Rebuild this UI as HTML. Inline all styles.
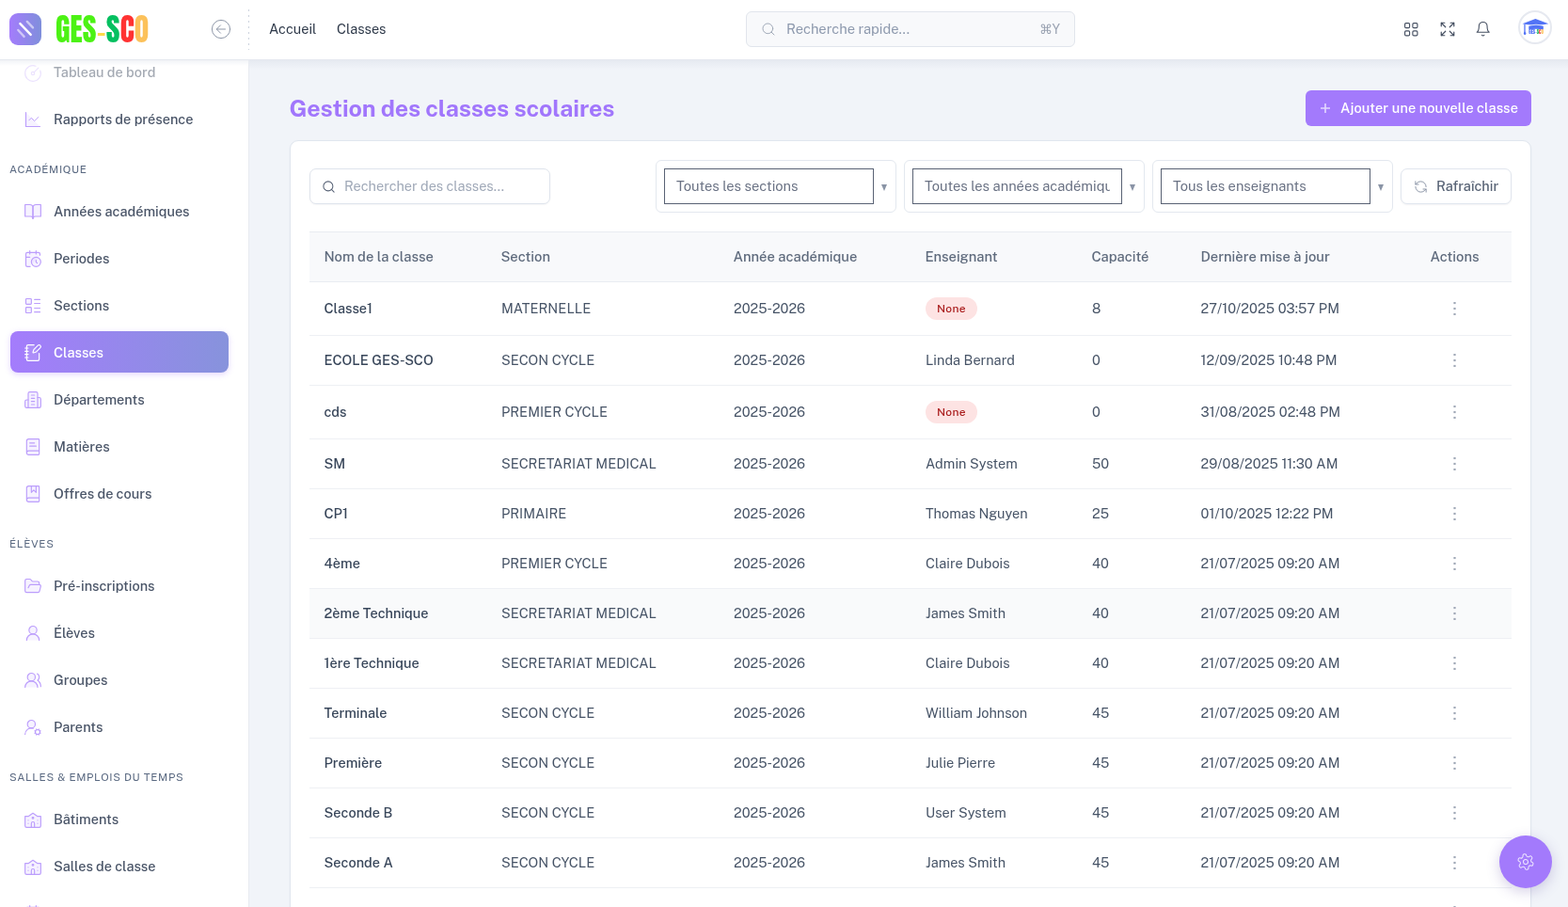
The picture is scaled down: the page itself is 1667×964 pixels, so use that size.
<!DOCTYPE html>
<html lang="fr">
<head>
<meta charset="utf-8">
<title>Gestion des classes scolaires</title>
<style>
*{box-sizing:border-box;margin:0;padding:0}
html,body{width:1667px;height:964px;overflow:hidden}
body{font-family:"Public Sans","Liberation Sans",sans-serif;background:#f1f4f9;color:#4a5568;position:relative;font-size:14.5px}
svg{display:block}
/* header */
#hdr{position:absolute;left:0;top:0;width:1667px;height:64px;background:#fff;border-bottom:1px solid #e5e8ef;z-index:5}
.logo-ic{position:absolute;left:10px;top:14px;width:34px;height:34px;border-radius:9px;background:linear-gradient(90deg,#a47cfc,#7f8fdb)}
.logo-ic svg{position:absolute;left:0;top:0}
.logo-tx{position:absolute;left:59px;top:8.6px;font-family:"Anton","Liberation Sans",sans-serif;font-size:33.3px;line-height:44px;letter-spacing:0.15px;transform:scaleX(.955);transform-origin:0 0;white-space:nowrap}
.logo-tx i{display:inline-block;width:8.4px;height:3px;background:#fcd94a;vertical-align:middle;margin:0 1.2px 0 1.1px;position:relative;top:4px}
.back{position:absolute;left:224px;top:20px}
.sep{position:absolute;left:264px;top:9.5px;height:43px;width:1px;background:repeating-linear-gradient(180deg,#cdd4df 0,#cdd4df 2px,transparent 2px,transparent 6px)}
.crumb{position:absolute;top:21px;font-size:14.5px;color:#2f3a4a;font-weight:400;line-height:20px}
.qs{position:absolute;left:793px;top:12px;width:350px;height:38px;border:1px solid #e1e5ec;border-radius:6px;background:#f8f9fb}
.qs svg{position:absolute;left:15px;top:10px}
.qs span{position:absolute;left:42px;top:8px;color:#8e9aae;font-size:14.7px;line-height:20px}
.qs b{position:absolute;right:15px;top:8px;color:#9aa3b2;font-weight:400;font-size:14px;line-height:20px}
.hic{position:absolute;top:22px}
.avatar{position:absolute;left:1614px;top:11px;width:36px;height:36px;border-radius:50%;border:2px solid #e6e9f0;background:#fff;overflow:hidden}
/* sidebar */
#sb{position:absolute;left:0;top:64px;width:265px;height:900px;background:#fff;border-right:1px solid #e8ebf1;overflow:hidden}
.it{position:absolute;left:0;width:264px;height:44px;font-size:14.5px;font-weight:500;color:#4a5568;line-height:20px}
.it span{position:absolute;left:57px;top:13px}
.it svg{position:absolute;left:25px;top:13px}
.it.on{left:11px;width:232px;border-radius:8px;background:linear-gradient(90deg,#a47cfc,#8793dc);box-shadow:0 2px 6px rgba(164,124,252,.3);color:#fff}
.it.on span{left:46px}.it.on svg{left:14px}
.it.fade{opacity:.5}.it.fade span{top:12px}.it.fade svg{opacity:.6}
.sbfade{position:absolute;left:0;top:0;width:264px;height:6px;background:linear-gradient(#f1f3f7,rgba(255,255,255,0))}
.sh{position:absolute;left:10px;font-size:11.5px;letter-spacing:.65px;color:#5b6a82;font-weight:400;text-transform:uppercase;line-height:20px}
/* main */
.mfade{position:absolute;left:265px;top:64px;width:1403px;height:10px;background:linear-gradient(#e6eaf1,rgba(241,244,249,0))}
h1{position:absolute;left:307.5px;top:99px;font-size:25px;font-weight:700;color:#a176fc;line-height:32px;letter-spacing:-0.12px}
.addbtn{position:absolute;left:1388px;top:96px;width:240px;height:38px;border-radius:6px;background:#a37afc;color:#fff;font-size:14.5px;line-height:38px;font-weight:500}
.addbtn svg{position:absolute;left:16px;top:14px}
.addbtn span{position:absolute;left:37px;top:0;letter-spacing:.1px}
.card{position:absolute;left:308px;top:149px;width:1320px;height:900px;background:#fff;border:1px solid #e0e6ee;border-radius:9px;box-shadow:0 1px 3px rgba(30,50,90,.04)}
.srch{position:absolute;left:329px;top:179px;width:256px;height:38px;border:1px solid #dfe4ec;border-radius:7px;background:#fff;box-shadow:0 1px 2px rgba(16,24,40,.04)}
.srch svg{position:absolute;left:12px;top:10.5px}
.srch span{position:absolute;left:36px;top:8px;color:#a0a9b8;line-height:20px}
.selw{position:absolute;top:170px;width:256px;height:56px;border:1px solid #e3e8ef;border-radius:6px;background:#fff}
.sel{position:absolute;left:8px;top:8px;width:223px;height:38px;border:1px solid #596274;background:#fff;overflow:hidden;white-space:nowrap}
.sel span{position:absolute;left:12px;right:12px;overflow:hidden;top:8px;line-height:20px;color:#6b7385;font-size:14.7px}
.arr{position:absolute;left:239px;top:24.5px;width:0;height:0;border-left:3.9px solid transparent;border-right:3.9px solid transparent;border-top:7px solid #8a94a6}
.refresh{position:absolute;left:1489px;top:179px;width:118px;height:38px;border:1px solid #e1e6ee;border-radius:7px;background:#fff;box-shadow:0 1px 2px rgba(16,24,40,.05)}
.refresh svg{position:absolute;left:13px;top:11px}
.refresh span{position:absolute;left:37px;top:8px;line-height:20px;color:#5a6577;font-weight:500}
/* table */
.tbl{position:absolute;left:329px;top:246px;width:1278px;height:720px}
.th{position:absolute;left:0;top:0;width:1278px;height:54px;background:#f8f9fb;border-top:1px solid #e9ecf1;border-bottom:1px solid #e9ecf1}
.th span{position:absolute;top:16px;line-height:20px;color:#5f6b7d;font-weight:500;font-size:14.75px;margin-left:-0.6px}
.tr{position:absolute;left:0;width:1278px;border-bottom:1px solid #eef0f4}
.tr.hov{background:#f9fafb}
.tr span{position:absolute;top:50%;margin-top:-10px;line-height:20px;color:#475467;font-weight:400}
.tr .c0{font-weight:500;color:#38465a;margin-left:-.5px}
.tr .c5{font-weight:400;letter-spacing:.08px;margin-left:-.5px}
.badge{position:absolute;top:50%;margin-top:-12px;height:24px;width:55px;border-radius:12px;background:#fde3e3;color:#ab1f1f;font-style:normal;font-weight:550;font-size:12px;letter-spacing:.35px;line-height:24px;text-align:center}
.dots{position:absolute;left:1216px;top:50%;margin-top:-7px}
.fab{position:absolute;left:1594px;top:888px;width:56px;height:56px;border-radius:50%;background:#a37afc;box-shadow:0 4px 14px rgba(90,70,160,.25)}
.fab svg{position:absolute;left:18px;top:18px;transform:rotate(-10deg)}
</style>
</head>
<body>
<div id="hdr">
  <div class="logo-ic"><svg width="34" height="34" viewBox="0 0 34 34" stroke-linecap="round"><path d="M18.8 8.9 25 15.4" stroke="#fff" stroke-opacity=".55" stroke-width="2.4"/><path d="M11.4 11.1 22.7 22.9" stroke="#fff" stroke-width="2.4"/><path d="M9.3 18 15.6 24.9" stroke="#fff" stroke-opacity=".55" stroke-width="2.4"/></svg></div>
  <div class="logo-tx"><span style="color:#4cf214">GES</span><i></i><span style="color:#05c060">S</span><span style="color:#ff3232">C</span><span style="color:#fcc15a">O</span></div>
  <svg class="back" width="22" height="22" viewBox="0 0 22 22" fill="none" stroke="#8f98a9" stroke-width="1" stroke-linecap="round" stroke-linejoin="round"><circle cx="11" cy="11" r="9.6"/><path d="M10.5 6.8 6.3 11l4.2 4.2M6.3 11h9.2"/></svg>
  <div class="sep"></div>
  <div class="crumb" style="left:286px">Accueil</div>
  <div class="crumb" style="left:358px">Classes</div>
  <div class="qs"><svg width="16" height="16" viewBox="0 0 24 24" fill="none" stroke="#a0a9b8" stroke-width="1.5" stroke-linecap="round"><circle cx="11" cy="11" r="8"/><path d="m21 21-4.3-4.3"/></svg><span>Recherche rapide...</span><b>⌘Y</b></div>
  <svg class="hic" style="left:1493.4px;top:23.9px" width="15" height="15" viewBox="0 0 15 15" fill="none" stroke="#465062" stroke-width="1.15"><rect x="0.6" y="0.6" width="5" height="5" rx="1.2"/><rect x="8.9" y="0.6" width="5" height="5" rx="1.2"/><rect x="0.6" y="8.9" width="5" height="5" rx="1.2"/><rect x="8.9" y="8.9" width="5" height="5" rx="1.2"/></svg>
  <svg class="hic" style="left:1530px;top:21.9px" width="18" height="18" viewBox="0 0 24 24" fill="none" stroke="#465062" stroke-width="1.6" stroke-linecap="round" stroke-linejoin="round"><path d="m21 21-6-6m6 6v-4.8m0 4.8h-4.8"/><path d="M3 16.2V21m0 0h4.8M3 21l6-6"/><path d="M21 7.8V3m0 0h-4.8M21 3l-6 6"/><path d="M3 7.8V3m0 0h4.8M3 3l6 6"/></svg>
  <svg class="hic" style="left:1568.4px;top:22px" width="17.4" height="17.4" viewBox="0 0 24 24" fill="none" stroke="#465062" stroke-width="1.5" stroke-linecap="round" stroke-linejoin="round"><path d="M6 8a6 6 0 0 1 12 0c0 7 3 9 3 9H3s3-2 3-9"/><path d="M10.3 21a1.94 1.94 0 0 0 3.4 0"/></svg>
  <div class="avatar"><svg width="32" height="32" viewBox="0 0 32 32"><path d="M16.4 7 30.4 12.3 16.4 14.6 2.5 12.3z" fill="#5273f6"/><path d="M9.3 14.6Q17 12.4 24.8 14.6V18.6Q17 17 9.3 18.6z" fill="#5273f6"/><path d="M8.8 14.2Q17 12.2 25.3 14.2" stroke="#fff" stroke-width=".8" fill="none"/><path d="M5 12.6v9" stroke="#5273f6" stroke-width="1.3"/><path d="M5 20.5c-1.2.8-1.6 2.3-.6 3.2.8.6 1.8.3 2-.7.2-1-.3-1.8-1.4-2.5z" fill="#5273f6"/><text x="9.3" y="23.1" font-family="Anton" font-size="5.2" textLength="15.6" lengthAdjust="spacingAndGlyphs"><tspan fill="#5273f6">GES-</tspan><tspan fill="#18b45a">S</tspan><tspan fill="#f23c3c">C</tspan><tspan fill="#fcc45c">O</tspan></text></svg></div>
</div>
<div id="sb">
<div class="it fade" style="top:-9px"><svg width="20" height="20" viewBox="0 0 24 24" stroke="#bc9efc" fill="none" stroke-width="1.4" stroke-linecap="round" stroke-linejoin="round"><path d="M15.6 2.7a10 10 0 1 0 5.7 5.7"/><circle cx="12" cy="12" r="2"/><path d="M13.4 10.6 19 5"/></svg><span>Tableau de bord</span></div>
<div class="it" style="top:40px"><svg width="20" height="20" viewBox="0 0 24 24" stroke="#bc9efc" fill="none" stroke-width="1.4" stroke-linecap="round" stroke-linejoin="round"><path d="M3 3 21 21H3z" fill="#a47cfc" fill-opacity=".1" stroke="none"/><path d="M3 3v18h18"/><path d="m19 9-5 5-4-4-3 3" stroke-width="1.2"/></svg><span>Rapports de présence</span></div>
<div class="it" style="top:138px"><svg width="20" height="20" viewBox="0 0 24 24" stroke="#bc9efc" fill="none" stroke-width="1.4" stroke-linecap="round" stroke-linejoin="round"><path d="M2 3h6a4 4 0 0 1 4 4v14a3 3 0 0 0-3-3H2z" fill="#a47cfc" fill-opacity=".1"/><path d="M22 3h-6a4 4 0 0 0-4 4v14a3 3 0 0 1 3-3h7z" fill="#a47cfc" fill-opacity=".1"/></svg><span>Années académiques</span></div>
<div class="it" style="top:188px"><svg width="20" height="20" viewBox="0 0 24 24" stroke="#bc9efc" fill="none" stroke-width="1.4" stroke-linecap="round" stroke-linejoin="round"><path d="M21 7.5V6a2 2 0 0 0-2-2H5a2 2 0 0 0-2 2v14a2 2 0 0 0 2 2h3.5" fill="#a47cfc" fill-opacity=".1"/><path d="M16 2v4"/><path d="M8 2v4"/><path d="M3 10h5"/><path d="M17.5 17.5 16 16.3V14"/><circle cx="16" cy="16" r="6" fill="#a47cfc" fill-opacity=".1"/></svg><span>Periodes</span></div>
<div class="it" style="top:238px"><svg width="20" height="20" viewBox="0 0 24 24" stroke="#bc9efc" fill="none" stroke-width="1.4" stroke-linecap="round" stroke-linejoin="round"><rect width="7" height="7" x="3" y="3" rx="1" fill="#a47cfc" fill-opacity=".1"/><rect width="7" height="7" x="3" y="14" rx="1" fill="#a47cfc" fill-opacity=".1"/><path d="M14 4h7"/><path d="M14 9h7"/><path d="M14 15h7"/><path d="M14 20h7"/></svg><span>Sections</span></div>
<div class="it on" style="top:288px"><svg width="20" height="20" viewBox="0 0 24 24" stroke="#ffffff" fill="none" stroke-width="1.4" stroke-linecap="round" stroke-linejoin="round"><path d="M13.4 2H6a2 2 0 0 0-2 2v16a2 2 0 0 0 2 2h12a2 2 0 0 0 2-2v-7.4" fill="#fff" fill-opacity=".12"/><path d="M2 6h4"/><path d="M2 10h4"/><path d="M2 14h4"/><path d="M2 18h4"/><path d="M21.378 5.626a1 1 0 1 0-3.004-3.004l-5.01 5.012a2 2 0 0 0-.506.854l-.837 2.87a.5.5 0 0 0 .62.62l2.87-.837a2 2 0 0 0 .854-.506z"/></svg><span>Classes</span></div>
<div class="it" style="top:338px"><svg width="20" height="20" viewBox="0 0 24 24" stroke="#bc9efc" fill="none" stroke-width="1.4" stroke-linecap="round" stroke-linejoin="round"><path d="M6 22V4a2 2 0 0 1 2-2h8a2 2 0 0 1 2 2v18Z" fill="#a47cfc" fill-opacity=".1"/><path d="M6 12H4a2 2 0 0 0-2 2v6a2 2 0 0 0 2 2h2" fill="#a47cfc" fill-opacity=".1"/><path d="M18 9h2a2 2 0 0 1 2 2v9a2 2 0 0 1-2 2h-2" fill="#a47cfc" fill-opacity=".1"/><path d="M10 6h4"/><path d="M10 10h4"/><path d="M10 14h4"/><path d="M10 18h4"/></svg><span>Départements</span></div>
<div class="it" style="top:388px"><svg width="20" height="20" viewBox="0 0 24 24" stroke="#bc9efc" fill="none" stroke-width="1.4" stroke-linecap="round" stroke-linejoin="round"><path d="M4 19.5v-15A2.5 2.5 0 0 1 6.5 2H19a1 1 0 0 1 1 1v18a1 1 0 0 1-1 1H6.5a1 1 0 0 1 0-5H20" fill="#a47cfc" fill-opacity=".1"/><path d="M8 11h8"/><path d="M8 7h6"/></svg><span>Matières</span></div>
<div class="it" style="top:438px"><svg width="20" height="20" viewBox="0 0 24 24" stroke="#bc9efc" fill="none" stroke-width="1.4" stroke-linecap="round" stroke-linejoin="round"><path d="M4 19.5v-15A2.5 2.5 0 0 1 6.5 2H19a1 1 0 0 1 1 1v18a1 1 0 0 1-1 1H6.5a1 1 0 0 1 0-5H20" fill="#a47cfc" fill-opacity=".1"/><path d="M10 2v8l3-3 3 3V2"/></svg><span>Offres de cours</span></div>
<div class="it" style="top:536px"><svg width="20" height="20" viewBox="0 0 24 24" stroke="#bc9efc" fill="none" stroke-width="1.4" stroke-linecap="round" stroke-linejoin="round"><path d="m6 14 1.5-2.9A2 2 0 0 1 9.24 10H20a2 2 0 0 1 1.94 2.5l-1.54 6a2 2 0 0 1-1.95 1.5H4a2 2 0 0 1-2-2V5a2 2 0 0 1 2-2h3.9a2 2 0 0 1 1.69.9l.81 1.2a2 2 0 0 0 1.67.9H18a2 2 0 0 1 2 2v2" fill="#a47cfc" fill-opacity=".1"/></svg><span>Pré-inscriptions</span></div>
<div class="it" style="top:586px"><svg width="20" height="20" viewBox="0 0 24 24" stroke="#bc9efc" fill="none" stroke-width="1.4" stroke-linecap="round" stroke-linejoin="round"><circle cx="12" cy="8" r="5" fill="#a47cfc" fill-opacity=".1"/><path d="M20 21a8 8 0 0 0-16 0" fill="#a47cfc" fill-opacity=".1"/></svg><span>Élèves</span></div>
<div class="it" style="top:636px"><svg width="20" height="20" viewBox="0 0 24 24" stroke="#bc9efc" fill="none" stroke-width="1.4" stroke-linecap="round" stroke-linejoin="round"><path d="M18 21a8 8 0 0 0-16 0" fill="#a47cfc" fill-opacity=".1"/><circle cx="10" cy="8" r="5" fill="#a47cfc" fill-opacity=".1"/><path d="M22 20c0-3.37-2-6.5-4-8a5 5 0 0 0-.45-8.3"/></svg><span>Groupes</span></div>
<div class="it" style="top:686px"><svg width="20" height="20" viewBox="0 0 24 24" stroke="#bc9efc" fill="none" stroke-width="1.4" stroke-linecap="round" stroke-linejoin="round"><path d="M2 21a8 8 0 0 1 10.434-7.62"/><circle cx="10" cy="8" r="5" fill="#a47cfc" fill-opacity=".1"/><circle cx="18" cy="18" r="3"/><path d="m19.5 14.3-.4.9"/><path d="m16.9 20.8-.4.9"/><path d="m21.7 19.5-.9-.4"/><path d="m15.2 16.9-.9-.4"/><path d="m21.7 16.5-.9.4"/><path d="m15.2 19.1-.9.4"/><path d="m19.5 21.7-.4-.9"/><path d="m16.9 15.2-.4-.9"/></svg><span>Parents</span></div>
<div class="it" style="top:784px"><svg width="20" height="20" viewBox="0 0 24 24" stroke="#bc9efc" fill="none" stroke-width="1.4" stroke-linecap="round" stroke-linejoin="round"><circle cx="12" cy="10" r="1"/><path d="M22 20V8h-4l-6-4-6 4H2v12a2 2 0 0 0 2 2h16a2 2 0 0 0 2-2" fill="#a47cfc" fill-opacity=".1"/><path d="M6 17v.01"/><path d="M6 13v.01"/><path d="M18 17v.01"/><path d="M18 13v.01"/><path d="M14 22v-5a2 2 0 0 0-2-2a2 2 0 0 0-2 2v5"/></svg><span>Bâtiments</span></div>
<div class="it" style="top:834px"><svg width="20" height="20" viewBox="0 0 24 24" stroke="#bc9efc" fill="none" stroke-width="1.4" stroke-linecap="round" stroke-linejoin="round"><circle cx="12" cy="10" r="1"/><path d="M22 20V8h-4l-6-4-6 4H2v12a2 2 0 0 0 2 2h16a2 2 0 0 0 2-2" fill="#a47cfc" fill-opacity=".1"/><path d="M6 17v.01"/><path d="M6 13v.01"/><path d="M18 17v.01"/><path d="M18 13v.01"/><path d="M14 22v-5a2 2 0 0 0-2-2a2 2 0 0 0-2 2v5"/></svg><span>Salles de classe</span></div>
<div class="it" style="top:884px"><svg width="20" height="20" viewBox="0 0 24 24" stroke="#bc9efc" fill="none" stroke-width="1.4" stroke-linecap="round" stroke-linejoin="round"><path d="M8 2v4"/><path d="M16 2v4"/><rect width="18" height="18" x="3" y="4" rx="2" fill="#a47cfc" fill-opacity=".1"/><path d="M3 10h18"/></svg><span>Emplois du temps</span></div>
<div class="sh" style="top:106px">Académique</div>
<div class="sh" style="top:504px">Élèves</div>
<div class="sh" style="top:752px">Salles &amp; emplois du temps</div>
<div class="sbfade"></div>
</div>
<div class="mfade"></div>
<h1>Gestion des classes scolaires</h1>
<div class="addbtn"><svg width="10" height="10" viewBox="0 0 10 10" stroke="#fff" stroke-opacity=".7" stroke-width="1.6" stroke-linecap="butt"><path d="M5 0v10M0 5h10"/></svg><span>Ajouter une nouvelle classe</span></div>
<div class="card"></div>
<div class="srch"><svg width="15" height="15" viewBox="0 0 24 24" fill="none" stroke="#556074" stroke-width="1.65" stroke-linecap="round"><circle cx="11" cy="11" r="8"/><path d="m21 21-4.3-4.3"/></svg><span>Rechercher des classes...</span></div>
<div class="selw" style="left:697px"><div class="sel"><span>Toutes les sections</span></div><div class="arr"></div></div>
<div class="selw" style="left:961px"><div class="sel"><span>Toutes les années académiques</span></div><div class="arr"></div></div>
<div class="selw" style="left:1225px"><div class="sel"><span>Tous les enseignants</span></div><div class="arr"></div></div>
<div class="refresh"><svg width="15" height="15" viewBox="0 0 24 24" fill="none" stroke="#8b95a7" stroke-width="1.6" stroke-linecap="round" stroke-linejoin="round"><path d="M21 12a9 9 0 0 0-9-9 9.75 9.75 0 0 0-6.74 2.74L3 8"/><path d="M3 3v5h5"/><path d="M3 12a9 9 0 0 0 9 9 9.75 9.75 0 0 0 6.74-2.74L21 16"/><path d="M16 16h5v5"/></svg><span>Rafraîchir</span></div>
<div class="tbl">
<div class="th"><span style="left:16px">Nom de la classe</span><span style="left:204px">Section</span><span style="left:451px">Année académique</span><span style="left:655px">Enseignant</span><span style="left:832px">Capacité</span><span style="left:948px">Dernière mise à jour</span><span style="left:1192px">Actions</span></div>
<div class="tr" style="top:54px;height:57px"><span class="c0" style="left:16px">Classe1</span><span class="c1" style="left:204px">MATERNELLE</span><span class="c2" style="left:451px">2025-2026</span><i class="badge" style="left:655px">None</i><span class="c4" style="left:832px">8</span><span class="c5" style="left:948px">27/10/2025 03:57 PM</span><svg class="dots" width="4" height="14" viewBox="0 0 4 14" fill="#a0a8b7"><rect x="0.4" y="-0.1" width="2.2" height="2.2"/><rect x="0.4" y="5.9" width="2.2" height="2.2"/><rect x="0.4" y="11.9" width="2.2" height="2.2"/></svg></div>
<div class="tr" style="top:111px;height:53px"><span class="c0" style="left:16px">ECOLE GES-SCO</span><span class="c1" style="left:204px">SECON CYCLE</span><span class="c2" style="left:451px">2025-2026</span><span class="c3" style="left:655px">Linda Bernard</span><span class="c4" style="left:832px">0</span><span class="c5" style="left:948px">12/09/2025 10:48 PM</span><svg class="dots" width="4" height="14" viewBox="0 0 4 14" fill="#a0a8b7"><rect x="0.4" y="-0.1" width="2.2" height="2.2"/><rect x="0.4" y="5.9" width="2.2" height="2.2"/><rect x="0.4" y="11.9" width="2.2" height="2.2"/></svg></div>
<div class="tr" style="top:164px;height:57px"><span class="c0" style="left:16px">cds</span><span class="c1" style="left:204px">PREMIER CYCLE</span><span class="c2" style="left:451px">2025-2026</span><i class="badge" style="left:655px">None</i><span class="c4" style="left:832px">0</span><span class="c5" style="left:948px">31/08/2025 02:48 PM</span><svg class="dots" width="4" height="14" viewBox="0 0 4 14" fill="#a0a8b7"><rect x="0.4" y="-0.1" width="2.2" height="2.2"/><rect x="0.4" y="5.9" width="2.2" height="2.2"/><rect x="0.4" y="11.9" width="2.2" height="2.2"/></svg></div>
<div class="tr" style="top:221px;height:53px"><span class="c0" style="left:16px">SM</span><span class="c1" style="left:204px">SECRETARIAT MEDICAL</span><span class="c2" style="left:451px">2025-2026</span><span class="c3" style="left:655px">Admin System</span><span class="c4" style="left:832px">50</span><span class="c5" style="left:948px">29/08/2025 11:30 AM</span><svg class="dots" width="4" height="14" viewBox="0 0 4 14" fill="#a0a8b7"><rect x="0.4" y="-0.1" width="2.2" height="2.2"/><rect x="0.4" y="5.9" width="2.2" height="2.2"/><rect x="0.4" y="11.9" width="2.2" height="2.2"/></svg></div>
<div class="tr" style="top:274px;height:53px"><span class="c0" style="left:16px">CP1</span><span class="c1" style="left:204px">PRIMAIRE</span><span class="c2" style="left:451px">2025-2026</span><span class="c3" style="left:655px">Thomas Nguyen</span><span class="c4" style="left:832px">25</span><span class="c5" style="left:948px">01/10/2025 12:22 PM</span><svg class="dots" width="4" height="14" viewBox="0 0 4 14" fill="#a0a8b7"><rect x="0.4" y="-0.1" width="2.2" height="2.2"/><rect x="0.4" y="5.9" width="2.2" height="2.2"/><rect x="0.4" y="11.9" width="2.2" height="2.2"/></svg></div>
<div class="tr" style="top:327px;height:53px"><span class="c0" style="left:16px">4ème</span><span class="c1" style="left:204px">PREMIER CYCLE</span><span class="c2" style="left:451px">2025-2026</span><span class="c3" style="left:655px">Claire Dubois</span><span class="c4" style="left:832px">40</span><span class="c5" style="left:948px">21/07/2025 09:20 AM</span><svg class="dots" width="4" height="14" viewBox="0 0 4 14" fill="#a0a8b7"><rect x="0.4" y="-0.1" width="2.2" height="2.2"/><rect x="0.4" y="5.9" width="2.2" height="2.2"/><rect x="0.4" y="11.9" width="2.2" height="2.2"/></svg></div>
<div class="tr hov" style="top:380px;height:53px"><span class="c0" style="left:16px">2ème Technique</span><span class="c1" style="left:204px">SECRETARIAT MEDICAL</span><span class="c2" style="left:451px">2025-2026</span><span class="c3" style="left:655px">James Smith</span><span class="c4" style="left:832px">40</span><span class="c5" style="left:948px">21/07/2025 09:20 AM</span><svg class="dots" width="4" height="14" viewBox="0 0 4 14" fill="#a0a8b7"><rect x="0.4" y="-0.1" width="2.2" height="2.2"/><rect x="0.4" y="5.9" width="2.2" height="2.2"/><rect x="0.4" y="11.9" width="2.2" height="2.2"/></svg></div>
<div class="tr" style="top:433px;height:53px"><span class="c0" style="left:16px">1ère Technique</span><span class="c1" style="left:204px">SECRETARIAT MEDICAL</span><span class="c2" style="left:451px">2025-2026</span><span class="c3" style="left:655px">Claire Dubois</span><span class="c4" style="left:832px">40</span><span class="c5" style="left:948px">21/07/2025 09:20 AM</span><svg class="dots" width="4" height="14" viewBox="0 0 4 14" fill="#a0a8b7"><rect x="0.4" y="-0.1" width="2.2" height="2.2"/><rect x="0.4" y="5.9" width="2.2" height="2.2"/><rect x="0.4" y="11.9" width="2.2" height="2.2"/></svg></div>
<div class="tr" style="top:486px;height:53px"><span class="c0" style="left:16px">Terminale</span><span class="c1" style="left:204px">SECON CYCLE</span><span class="c2" style="left:451px">2025-2026</span><span class="c3" style="left:655px">William Johnson</span><span class="c4" style="left:832px">45</span><span class="c5" style="left:948px">21/07/2025 09:20 AM</span><svg class="dots" width="4" height="14" viewBox="0 0 4 14" fill="#a0a8b7"><rect x="0.4" y="-0.1" width="2.2" height="2.2"/><rect x="0.4" y="5.9" width="2.2" height="2.2"/><rect x="0.4" y="11.9" width="2.2" height="2.2"/></svg></div>
<div class="tr" style="top:539px;height:53px"><span class="c0" style="left:16px">Première</span><span class="c1" style="left:204px">SECON CYCLE</span><span class="c2" style="left:451px">2025-2026</span><span class="c3" style="left:655px">Julie Pierre</span><span class="c4" style="left:832px">45</span><span class="c5" style="left:948px">21/07/2025 09:20 AM</span><svg class="dots" width="4" height="14" viewBox="0 0 4 14" fill="#a0a8b7"><rect x="0.4" y="-0.1" width="2.2" height="2.2"/><rect x="0.4" y="5.9" width="2.2" height="2.2"/><rect x="0.4" y="11.9" width="2.2" height="2.2"/></svg></div>
<div class="tr" style="top:592px;height:53px"><span class="c0" style="left:16px">Seconde B</span><span class="c1" style="left:204px">SECON CYCLE</span><span class="c2" style="left:451px">2025-2026</span><span class="c3" style="left:655px">User System</span><span class="c4" style="left:832px">45</span><span class="c5" style="left:948px">21/07/2025 09:20 AM</span><svg class="dots" width="4" height="14" viewBox="0 0 4 14" fill="#a0a8b7"><rect x="0.4" y="-0.1" width="2.2" height="2.2"/><rect x="0.4" y="5.9" width="2.2" height="2.2"/><rect x="0.4" y="11.9" width="2.2" height="2.2"/></svg></div>
<div class="tr" style="top:645px;height:53px"><span class="c0" style="left:16px">Seconde A</span><span class="c1" style="left:204px">SECON CYCLE</span><span class="c2" style="left:451px">2025-2026</span><span class="c3" style="left:655px">James Smith</span><span class="c4" style="left:832px">45</span><span class="c5" style="left:948px">21/07/2025 09:20 AM</span><svg class="dots" width="4" height="14" viewBox="0 0 4 14" fill="#a0a8b7"><rect x="0.4" y="-0.1" width="2.2" height="2.2"/><rect x="0.4" y="5.9" width="2.2" height="2.2"/><rect x="0.4" y="11.9" width="2.2" height="2.2"/></svg></div>
<div class="tr" style="top:698px;height:53px"><span class="c0" style="left:16px">Troisième</span><span class="c1" style="left:204px">PREMIER CYCLE</span><span class="c2" style="left:451px">2025-2026</span><span class="c3" style="left:655px">Claire Dubois</span><span class="c4" style="left:832px">40</span><span class="c5" style="left:948px">21/07/2025 09:20 AM</span><svg class="dots" width="4" height="14" viewBox="0 0 4 14" fill="#a0a8b7"><rect x="0.4" y="-0.1" width="2.2" height="2.2"/><rect x="0.4" y="5.9" width="2.2" height="2.2"/><rect x="0.4" y="11.9" width="2.2" height="2.2"/></svg></div>
</div>
<div class="fab"><svg width="20" height="20" viewBox="0 0 24 24" fill="none" stroke="#fff" stroke-opacity=".8" stroke-width="1.25" stroke-linecap="round" stroke-linejoin="round"><path d="M12.22 2h-.44a2 2 0 0 0-2 2v.18a2 2 0 0 1-1 1.73l-.43.25a2 2 0 0 1-2 0l-.15-.08a2 2 0 0 0-2.73.73l-.22.38a2 2 0 0 0 .73 2.73l.15.1a2 2 0 0 1 1 1.72v.51a2 2 0 0 1-1 1.74l-.15.09a2 2 0 0 0-.73 2.73l.22.38a2 2 0 0 0 2.73.73l.15-.08a2 2 0 0 1 2 0l.43.25a2 2 0 0 1 1 1.73V20a2 2 0 0 0 2 2h.44a2 2 0 0 0 2-2v-.18a2 2 0 0 1 1-1.73l.43-.25a2 2 0 0 1 2 0l.15.08a2 2 0 0 0 2.73-.73l.22-.39a2 2 0 0 0-.73-2.73l-.15-.08a2 2 0 0 1-1-1.74v-.5a2 2 0 0 1 1-1.74l.15-.09a2 2 0 0 0 .73-2.73l-.22-.38a2 2 0 0 0-2.73-.73l-.15.08a2 2 0 0 1-2 0l-.43-.25a2 2 0 0 1-1-1.73V4a2 2 0 0 0-2-2z"/><circle cx="12" cy="12" r="3"/></svg></div>
</body>
</html>
